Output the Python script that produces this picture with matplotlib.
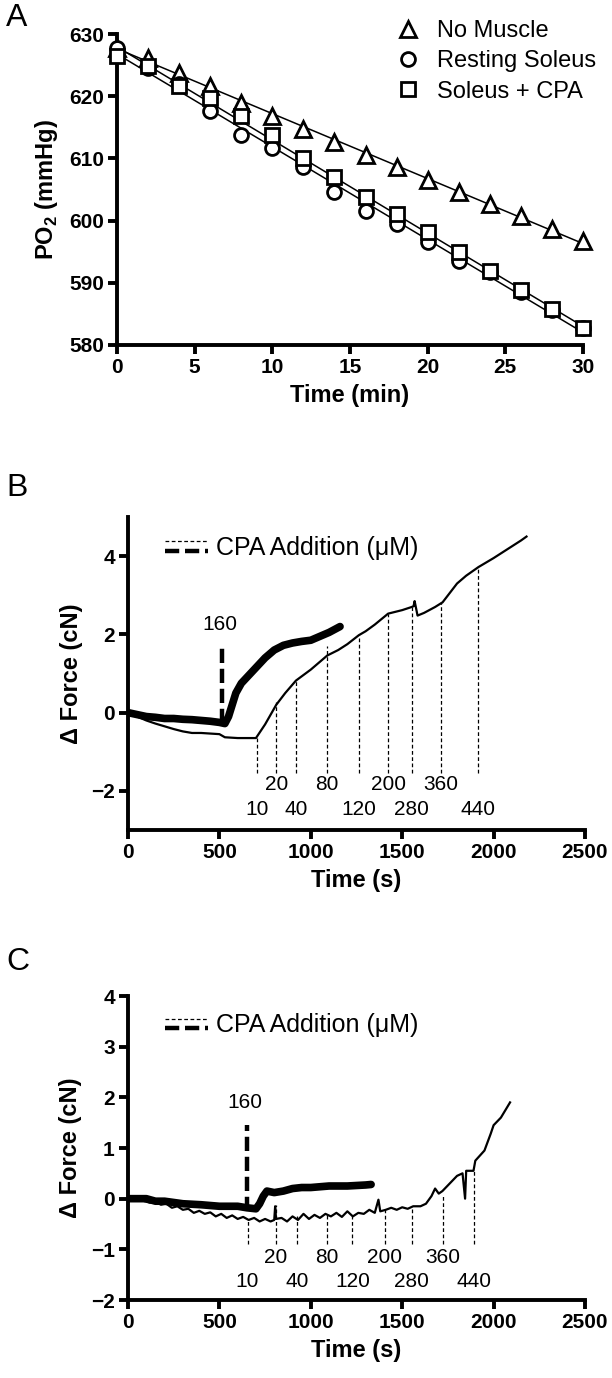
import numpy as np
import matplotlib
matplotlib.use("Agg")
import matplotlib.pyplot as plt

plt.rcParams['font.family'] = ['Liberation Sans', 'DejaVu Sans']
plt.rcParams['mathtext.fontset'] = 'custom'
plt.rcParams['mathtext.rm'] = 'Liberation Sans'
plt.rcParams['mathtext.bf'] = 'Liberation Sans:bold'

# ---- Panel A data: PO2 (mmHg) vs time (min)
t_min = [0, 2, 4, 6, 8, 10, 12, 14, 16, 18, 20, 22, 24, 26, 28, 30]
no_muscle = [627.8, 626.2, 623.8, 621.6, 618.9, 616.8, 614.8, 612.7, 610.5, 608.6,
             606.5, 604.6, 602.7, 600.7, 598.6, 596.8]
resting_soleus = [627.8, 624.6, 621.9, 617.6, 613.8, 611.6, 608.6, 604.6, 601.6, 599.5,
                  596.6, 593.5, 591.7, 588.6, 585.7, 582.7]
soleus_cpa = [626.5, 624.9, 621.6, 619.7, 616.8, 613.8, 610.0, 607.0, 603.8, 601.1,
              598.1, 595.0, 591.9, 588.8, 585.8, 582.7]

# ---- Panel B data: force traces (cN) vs time (s)
b_thin_t = [0, 50, 100, 150, 200, 250, 300, 350, 400, 500, 530, 600, 700, 750, 811, 860,
            919, 1000, 1050, 1090, 1150, 1200, 1263, 1300, 1350, 1423, 1500, 1552, 1562,
            1568, 1584, 1620, 1680, 1721, 1800, 1850, 1917, 2000, 2050, 2100, 2150, 2180]
b_thin_f = [0.0, -0.1, -0.2, -0.28, -0.35, -0.42, -0.48, -0.52, -0.52, -0.55, -0.63, -0.65,
            -0.65, -0.3, 0.2, 0.5, 0.82, 1.1, 1.3, 1.46, 1.6, 1.75, 1.98, 2.08, 2.25, 2.53,
            2.62, 2.7, 2.72, 2.85, 2.48, 2.55, 2.7, 2.82, 3.3, 3.5, 3.72, 3.95, 4.1, 4.25,
            4.4, 4.5]
b_thick_t = [0, 50, 100, 150, 200, 250, 300, 350, 400, 450, 500, 530, 550, 570, 590, 620,
             660, 700, 750, 800, 850, 900, 950, 1000, 1050, 1100, 1160]
b_thick_f = [0.0, -0.05, -0.1, -0.12, -0.15, -0.15, -0.17, -0.18, -0.2, -0.22, -0.25, -0.28,
             -0.1, 0.2, 0.5, 0.75, 0.95, 1.15, 1.4, 1.6, 1.72, 1.78, 1.82, 1.85, 1.95, 2.05, 2.2]
b_add_t = [705, 811, 919, 1090, 1263, 1423, 1552, 1713, 1917]
b_add_top = [-0.66, 0.26, 0.82, 1.7, 1.98, 2.53, 2.71, 2.82, 3.71]
b_add_lbl = ['10', '20', '40', '80', '120', '200', '280', '360', '440']
b_bolus_t = 512
b_bolus_range = [-0.26, 1.79]

# ---- Panel C data
c_thin_t = [0, 30, 60, 90, 120, 150, 180, 210, 240, 270, 300, 330, 360, 390, 420, 450, 480,
            510, 540, 570, 600, 630, 660, 690, 720, 750, 780, 800, 805, 810, 840, 870, 900,
            930, 960, 990, 1020, 1050, 1080, 1110, 1140, 1170, 1200, 1230, 1260, 1290, 1320,
            1350, 1370, 1380, 1410, 1440, 1470, 1500, 1530, 1560, 1600, 1630, 1660, 1680,
            1700, 1720, 1760, 1800, 1830, 1844, 1850, 1890, 1900, 1950, 1984, 2000, 2040, 2090]
c_thin_f = [0.0, -0.02, 0.0, -0.05, -0.08, -0.06, -0.12, -0.1, -0.18, -0.15, -0.22, -0.2,
            -0.28, -0.24, -0.3, -0.27, -0.35, -0.3, -0.38, -0.33, -0.4, -0.36, -0.42, -0.38,
            -0.45, -0.4, -0.45, -0.42, -0.15, -0.4, -0.38, -0.45, -0.35, -0.42, -0.3, -0.4,
            -0.32, -0.38, -0.3, -0.35, -0.28, -0.36, -0.25, -0.35, -0.28, -0.3, -0.22, -0.28,
            -0.02, -0.25, -0.22, -0.18, -0.22, -0.17, -0.2, -0.15, -0.15, -0.1, 0.05, 0.2,
            0.1, 0.15, 0.3, 0.45, 0.5, 0.0, 0.55, 0.55, 0.75, 0.95, 1.28, 1.45, 1.6, 1.9]
c_thick_t = [0, 100, 150, 200, 300, 400, 500, 600, 650, 700, 720, 740, 760, 800, 850, 900,
             950, 1000, 1100, 1200, 1300, 1330]
c_thick_f = [0.0, 0.0, -0.05, -0.05, -0.1, -0.12, -0.15, -0.15, -0.18, -0.2, -0.1, 0.05,
             0.15, 0.12, 0.15, 0.2, 0.22, 0.22, 0.25, 0.25, 0.27, 0.28]
c_add_t = [654, 808, 927, 1088, 1228, 1405, 1553, 1721, 1892]
c_add_top = [-0.44, -0.13, -0.35, -0.32, -0.32, -0.22, -0.18, 0.09, 0.58]
c_add_lbl = ['10', '20', '40', '80', '120', '200', '280', '360', '440']
c_bolus_t = 650
c_bolus_range = [-0.25, 1.45]

W, H = 612, 1378
fig = plt.figure(figsize=(W / 100, H / 100), dpi=100)


def style(ax):
    for s in ['top', 'right']:
        ax.spines[s].set_visible(False)
    for s in ['left', 'bottom']:
        ax.spines[s].set_linewidth(2.8)
    ax.tick_params(direction='out', length=6.5, width=2.8, labelsize=15, pad=3)
    for lab in ax.get_xticklabels() + ax.get_yticklabels():
        lab.set_fontweight('bold')


# ---------------- Panel A
axA = fig.add_axes([117 / W, 1 - 345 / H, 466 / W, 311 / H])
series = [(no_muscle, '^', 'No Muscle', 11), (resting_soleus, 'o', 'Resting Soleus', 10),
          (soleus_cpa, 's', 'Soleus + CPA', 10)]
tt = np.array(t_min)
for vals, mk, lbl, ms in series:
    p = np.polyfit(tt, vals, 1)
    axA.plot([0, 30], np.polyval(p, [0, 30]), color='black', lw=1.1, zorder=2)
    axA.plot(tt, vals, linestyle='none', marker=mk, ms=ms, mfc='white', mec='black',
             mew=2, label=lbl, clip_on=False, zorder=3)
axA.set_xlim(0, 30)
axA.set_ylim(580, 630)
axA.set_xticks(range(0, 31, 5))
axA.set_yticks(range(580, 631, 10))
axA.set_xlabel('Time (min)', fontsize=17, fontweight='bold', labelpad=5)
axA.set_ylabel(r'PO$_{\mathbf{2}}$ (mmHg)', fontsize=17, fontweight='bold', labelpad=6)
style(axA)
axA.legend(loc='upper left', bbox_to_anchor=(0.599, 1.045), frameon=False, fontsize=17,
           handlelength=1.0, handletextpad=0.74, labelspacing=0.35, borderpad=0,
           borderaxespad=0)


def force_panel(ax, thin_t, thin_f, thick_t, thick_f, add_t, add_top, add_lbl,
                bolus_t, bolus_range, ylim, yticks, dash_bot, row_hi, row_lo,
                lbl160_y, leg_y):
    ax.plot(thin_t, thin_f, color='black', lw=1.6, zorder=3)
    ax.plot(thick_t, thick_f, color='black', lw=5.5, solid_capstyle='round', zorder=3)
    for i, (x, top) in enumerate(zip(add_t, add_top)):
        ax.plot([x, x], [dash_bot, top], color='black', lw=0.9, dashes=(3, 2), zorder=2)
        yy = row_hi if i % 2 == 1 else row_lo
        ax.text(x, yy, add_lbl[i], ha='center', va='center', fontsize=15)
    ax.plot([bolus_t, bolus_t], bolus_range, color='black', lw=3.2, dashes=(3.2, 1.3),
            zorder=4)
    ax.text(bolus_t - 10, lbl160_y, '160', ha='center', va='center', fontsize=15)
    # legend handles
    ax.plot([202, 437], [leg_y + 0.18 * (ylim[1] - ylim[0]) / 8] * 2, color='black',
            lw=0.9, dashes=(3, 2))
    ax.plot([202, 437], [leg_y - 0.08 * (ylim[1] - ylim[0]) / 8] * 2, color='black',
            lw=3.2, dashes=(3.2, 1.3))
    ax.text(480, leg_y, 'CPA Addition (\u03bcM)', ha='left', va='center', fontsize=18)
    ax.set_xlim(0, 2500)
    ax.set_ylim(*ylim)
    ax.set_xticks(range(0, 2501, 500))
    ax.set_yticks(yticks)
    ax.set_xlabel('Time (s)', fontsize=17, fontweight='bold', labelpad=5)
    ax.set_ylabel('\u0394 Force (cN)', fontsize=17, fontweight='bold', labelpad=6)
    style(ax)


# ---------------- Panel B
axB = fig.add_axes([128 / W, 1 - 830 / H, 457 / W, 313 / H])
force_panel(axB, b_thin_t, b_thin_f, b_thick_t, b_thick_f, b_add_t, b_add_top, b_add_lbl,
            b_bolus_t, b_bolus_range, (-3, 5), [-2, 0, 2, 4], -1.55, -1.84, -2.47,
            2.26, 4.2)

# ---------------- Panel C
axC = fig.add_axes([128 / W, 1 - 1300 / H, 457 / W, 304 / H])
force_panel(axC, c_thin_t, c_thin_f, c_thick_t, c_thick_f, c_add_t, c_add_top, c_add_lbl,
            c_bolus_t, c_bolus_range, (-2, 4), [-2, -1, 0, 1, 2, 3, 4], -0.9, -1.17, -1.63,
            1.89, 3.42)

for letter, ypx in [('A', 18), ('B', 488), ('C', 962)]:
    fig.text(6 / W, 1 - ypx / H, letter, fontsize=23, ha='left', va='center')

fig.savefig('out.png', dpi=100, facecolor='white')
